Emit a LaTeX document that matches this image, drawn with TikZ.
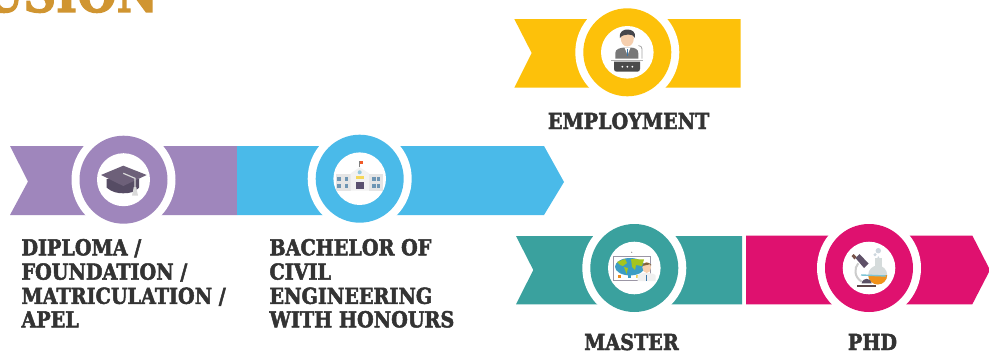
\documentclass[tikz,border=0pt]{standalone}
\usepackage{fontspec}
\newfontfamily\slab[FakeStretch=0.87,FakeBold=2.2]{DejaVu Serif Bold}
\definecolor{cpurple}{HTML}{9F86BC}
\definecolor{cblue}{HTML}{4ABAE9}
\definecolor{cyellow}{HTML}{FDC10A}
\definecolor{cteal}{HTML}{3AA19E}
\definecolor{cpink}{HTML}{DF116F}
\definecolor{ctext}{HTML}{333333}
\definecolor{chead}{HTML}{D09531}
\definecolor{peach}{HTML}{F6CFAE}
\definecolor{capdark}{HTML}{564C64}
\definecolor{capboard}{HTML}{6D6079}
\definecolor{doorc}{HTML}{5A506E}
\definecolor{signc}{HTML}{F5D75A}
\definecolor{clockc}{HTML}{96C8DC}
\definecolor{flagc}{HTML}{F05A28}
\definecolor{winc}{HTML}{6E96B4}
\definecolor{suitc}{HTML}{787878}
\definecolor{tiec}{HTML}{3C78AA}
\definecolor{hairc}{HTML}{46464B}
\definecolor{podc}{HTML}{4B4B4B}
\definecolor{framec}{HTML}{9B96A5}
\definecolor{seac}{HTML}{3C9DC4}
\definecolor{landc}{HTML}{A5C41F}
\definecolor{orangec}{HTML}{EB8C1E}
\definecolor{yellowc}{HTML}{F0D25A}
\definecolor{hairb}{HTML}{82643C}
\definecolor{glassc}{HTML}{D5DBDB}
\definecolor{liquidc}{HTML}{F09119}
\definecolor{bubblec}{HTML}{CDD7DE}
\definecolor{tubec}{HTML}{5F5168}
\definecolor{eyec}{HTML}{78554B}
\definecolor{stagec}{HTML}{7FC4D4}
\definecolor{moundc}{HTML}{5A5064}
\definecolor{basec}{HTML}{5B4648}
\tikzset{
  lab/.style={inner sep=0pt,outer sep=0pt,text=ctext,font=\slab\fontsize{22}{24}\selectfont},
  ribbon/.style={draw=none}
}
\newcommand{\badge}[4]{%
  \fill[white] (#1,#2) circle[radius=52];
  \fill[#3] (#1,#2) circle[radius=44];
  \fill[white] (#1,#2) circle[radius=#4];
}
\begin{document}
\begin{tikzpicture}[x=1pt,y=-1pt]
\useasboundingbox (0,0) rectangle (989,356);
\fill[white] (0,0) rectangle (989,356);
% heading, cut by the top edge
\begin{scope}
\clip (0,0) rectangle (989,356);
\node[inner sep=0pt,outer sep=0pt,anchor=base east,text=chead,font=\slab\fontsize{52}{52}\selectfont] (head) at (158,12) {USION};
\end{scope}
% ribbons
\fill[ribbon,cpurple] (10,146) -- (237,146) -- (237,215) -- (10,215) -- (28,181.5) -- cycle;
\fill[ribbon,cblue] (237,146) -- (544,146) -- (564,182) -- (544,215) -- (237,215) -- cycle;
\fill[ribbon,cyellow] (514.3,19) -- (740.5,19) -- (740.5,87.7) -- (514.3,87.7) -- (531.7,53) -- cycle;
\fill[ribbon,cteal] (516,236) -- (742,236) -- (742,304.3) -- (516,304.3) -- (533.3,270) -- cycle;
\fill[ribbon,cpink] (746,235.5) -- (972.3,235.5) -- (990,270) -- (972.3,304.3) -- (746,304.3) -- cycle;
% badges
\badge{123.5}{179.7}{cpurple}{26.5}
\badge{359.7}{178.7}{cblue}{26.3}
\badge{627.3}{52.3}{cyellow}{26.3}
\badge{634.3}{268}{cteal}{26.3}
\badge{869}{268}{cpink}{26.3}
% mortarboard
\fill[capdark] (106.7,179) -- (106.7,187.7) .. controls (112,192) and (117,193.3) .. (123.3,193.3) .. controls (130,193.3) and (135,192) .. (139,187.7) -- (139,179) -- cycle;
\fill[capboard] (101,175) -- (123.3,165.7) -- (146.7,175) -- (123.3,186) -- cycle;
\draw[white!85!black,line width=1.2pt] (123.3,173.3) -- (135,178.3) -- (135,188);
\fill[white!85!black] (133.8,187) -- (136.2,187) -- (138,195.7) -- (132,195.7) -- cycle;
% school
\fill[white!90!black] (335.7,174) rectangle (350.7,190.7);
\fill[white!90!black] (369,174) rectangle (383.3,190.7);
\fill[white!95!black] (350.7,190.7) -- (350.7,173.3) -- (359.7,167.3) -- (369,173.3) -- (369,190.7) -- cycle;
\fill[doorc] (356,182) rectangle (364,189);
\fill[signc] (356.3,176) rectangle (363.7,179);
\fill[clockc] (359.7,172.3) circle[radius=2];
\draw[gray,line width=0.5pt] (359.7,161) -- (359.7,167.3);
\fill[flagc] (359.7,161) rectangle (363.3,164.3);
\foreach \wx in {337.3,344.7,372.3,376.7}\foreach \wy in {176.7,184}{
  \fill[winc] (\wx,\wy) rectangle ++(3.3,4);
}
% speaker
\fill[suitc] (615.3,58.5) -- (615.3,53) .. controls (615.3,49) and (620,48) .. (624,47.5) -- (631,47.5) .. controls (635,48) and (638.3,49) .. (638.3,53) -- (638.3,58.5) -- cycle;
\fill[white] (624.5,47.5) -- (630.5,47.5) -- (627.5,55) -- cycle;
\fill[tiec] (626.8,49) rectangle (628.2,56);
\fill[peach] (627.3,38.5) ellipse[x radius=6.5,y radius=8];
\fill[hairc] (619.8,38) .. controls (619,31) and (624,29.5) .. (627.5,29.5) .. controls (632,29.5) and (636,32) .. (635,38) .. controls (634,35) and (631,34.5) .. (628,34.5) .. controls (625,35) and (622,35) .. (619.8,38) -- cycle;
\draw[gray!70,line width=0.8pt] (642,58.5) -- (642,49) .. controls (642,47) and (641,46) .. (638.5,45.5);
\fill[white!70!black] (611,59.5) rectangle (642.7,60.5);
\fill[podc] (614,61.7) -- (640,61.7) -- (640,69) .. controls (640,71) and (639,71.7) .. (637,71.7) -- (617,71.7) .. controls (615,71.7) and (614,71) .. (614,69) -- cycle;
\foreach \sx in {622.3,627.3,632.3}{\fill[white] (\sx,66.7) circle[radius=1];}
% map and teacher
\draw[framec,fill=white,line width=1pt] (613.8,256.7) rectangle (650.7,280);
\fill[seac] (630,266.7) ellipse[x radius=15,y radius=8.7];
\fill[landc] (617,262) -- (625,259) -- (627,263) -- (623,266) -- (620,265) -- cycle;
\fill[landc] (624,267) -- (628,268) -- (626.5,274) -- cycle;
\fill[landc] (631,259) -- (644,259.5) -- (642,266) -- (636,265) -- (635,270) -- (632,267) -- cycle;
\fill[orangec] (618.3,275) rectangle ++(3,3);
\fill[seac] (628.3,275) rectangle ++(3,3);
\fill[yellowc] (636,275) rectangle ++(3,3);
\fill[gray] (631.7,252.3) circle[radius=0.6];
\fill[white!94!black] (637.7,281) -- (637.7,276) .. controls (638,274) and (642,273.5) .. (644,273) -- (649,273) .. controls (652,273.5) and (655.5,274) .. (655.7,276) -- (655.7,281) -- cycle;
\fill[tiec] (646,275) rectangle (647,281);
\fill[peach] (646.7,267.5) ellipse[x radius=4.3,y radius=5.5];
\fill[hairb] (642.4,266) .. controls (642.5,262) and (650,261) .. (651,265.5) -- (651,264) -- (642.4,266) -- cycle;
% flask
\fill[glassc] (875,258) rectangle (881.7,268);
\fill[glassc] (877.7,275) circle[radius=9.5];
\begin{scope}
\clip (866,275) rectangle (890,288);
\fill[liquidc] (877.7,275) circle[radius=9.5];
\end{scope}
\fill[bubblec] (878.3,250.7) circle[radius=2.7];
\fill[bubblec] (875,254.7) circle[radius=1.7];
\fill[bubblec] (878.3,257.3) circle[radius=1];
% microscope
\draw[white!80!black,line width=2pt] (858.3,263.3) .. controls (854,268) and (854,277) .. (861.7,281.7);
\fill[tubec] (855.5,258) -- (859.5,254) -- (868.5,263.5) -- (864,268) -- cycle;
\fill[eyec] (851.5,256) -- (853.5,254) -- (856.5,257) -- (854.5,259.5) -- cycle;
\draw[stagec,line width=1.4pt] (861,275) -- (886,276);
\fill[moundc] (861.7,283.3) .. controls (862,280) and (865,278.8) .. (866.7,278.8) .. controls (869,278.8) and (871.5,280.5) .. (871.7,283.3) -- cycle;
\fill[basec] (857,285) rectangle (876,286.7);
% labels
\node[lab,anchor=base] (employ) at (628.7,129) {EMPLOYMENT};
\node[lab,anchor=base] (master) at (631.5,350) {MASTER};
\node[lab,anchor=base] (phd) at (872.5,350) {PHD};
\node[lab,anchor=base west] (d1) at (21.5,255.3) {DIPLOMA /};
\node[lab,anchor=base west] (d2) at (21.5,279.6) {FOUNDATION /};
\node[lab,anchor=base west] (d3) at (21.5,303.8) {MATRICULATION /};
\node[lab,anchor=base west] (d4) at (21.5,327.3) {APEL};
\node[lab,anchor=base west] (b1) at (269.5,255.3) {BACHELOR OF};
\node[lab,anchor=base west] (b2) at (269.5,279.6) {CIVIL};
\node[lab,anchor=base west] (b3) at (269.5,303.8) {ENGINEERING};
\node[lab,anchor=base west] (b4) at (269.5,327.3) {WITH HONOURS};
\end{tikzpicture}
\end{document}
